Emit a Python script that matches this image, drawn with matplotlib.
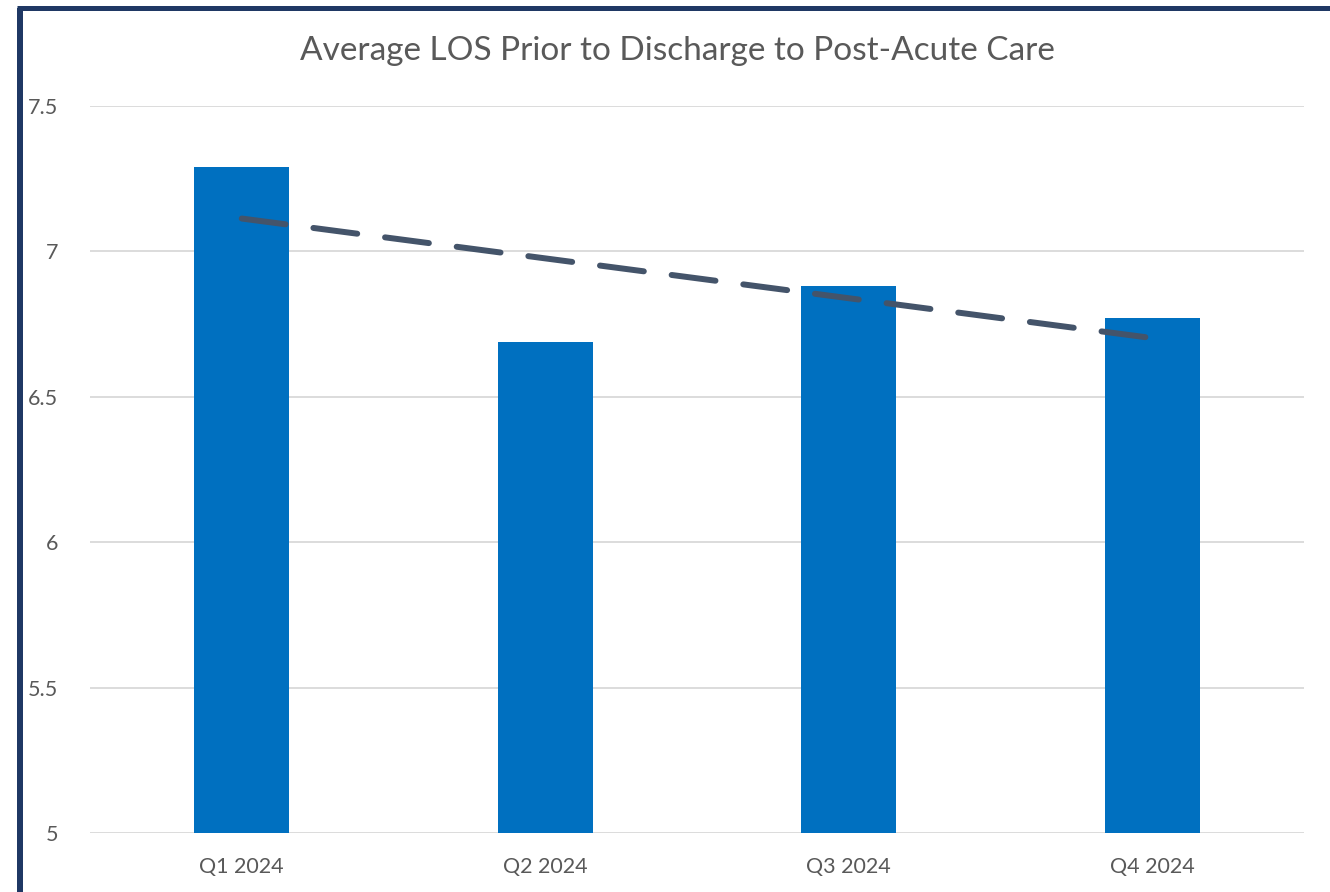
import matplotlib
matplotlib.use("Agg")
import matplotlib.pyplot as plt
import numpy as np
from matplotlib.lines import Line2D

categories = ["Q1 2024", "Q2 2024", "Q3 2024", "Q4 2024"]
values = [7.29, 6.69, 6.88, 6.77]
yticks = [5, 5.5, 6, 6.5, 7, 7.5]
ytick_labels = ["5", "5.5", "6", "6.5", "7", "7.5"]
title = "Average LOS Prior to Discharge to Post-Acute Care"

W, H, DPI = 1330, 892, 100
fig = plt.figure(figsize=(W / DPI, H / DPI), dpi=DPI)
fig.patch.set_facecolor("white")
plt.rcParams['font.family'] = ['Lato', 'DejaVu Sans']

ax = fig.add_axes([90 / W, 1 - 833 / H, (1304 - 90) / W, (833 - 106) / H])
x = np.arange(len(categories))
ax.bar(x, values, width=0.313, color="#0070C0", zorder=2)

# linear trendline
coef = np.polyfit(x, values, 1)
trend = np.polyval(coef, x)
ax.plot(x, trend, color="#44546A", lw=4.3, dashes=(7.4, 4.7),
        dash_capstyle="round", solid_capstyle="round", zorder=3)

ax.set_xlim(-0.5, len(categories) - 0.5)
ax.set_ylim(5, 7.5)
ax.set_yticks(yticks)
ax.set_yticklabels(ytick_labels)
ax.set_xticks(x)
ax.set_xticklabels(categories)
ax.yaxis.grid(True, color="#D9D9D9", lw=1.3, zorder=0)
ax.set_axisbelow(True)
for s in ax.spines.values():
    s.set_visible(False)
ax.tick_params(axis="both", length=0, labelsize=15.5, colors="#595959")
ax.tick_params(axis="y", pad=23)
ax.tick_params(axis="x", pad=17)

fig.text(677 / W, 1 - 51 / H, title, ha="center", va="center",
         fontsize=24, color="#595959")

# frame
fig.add_artist(Line2D([20 / W, 20 / W], [0, 1 - 7.5 / H], color="#1F3864",
                      lw=6 * 72 / DPI, solid_capstyle="butt"))
fig.add_artist(Line2D([17 / W, 1], [1 - 7.5 / H, 1 - 7.5 / H], color="#1F3864",
                      lw=5 * 72 / DPI, solid_capstyle="butt"))

fig.savefig("out.png", dpi=DPI, facecolor="white")
